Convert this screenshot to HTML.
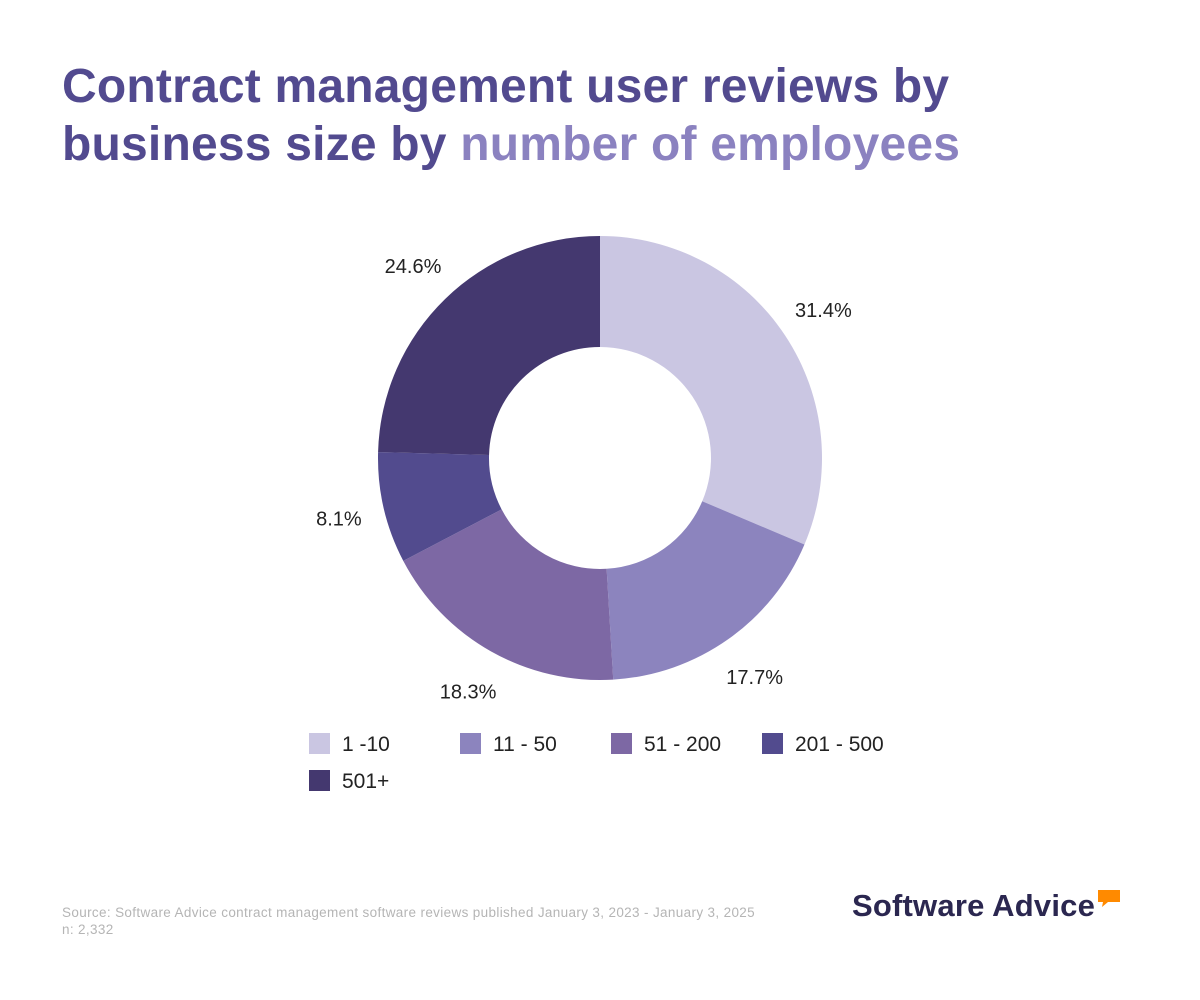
<!DOCTYPE html>
<html><head><meta charset="utf-8"><style>
body{margin:0;width:1200px;height:1000px;background:#fff;font-family:"Liberation Sans",sans-serif;position:relative;overflow:hidden}
h1{position:absolute;left:62px;top:58px;margin:0;font-size:48px;line-height:58px;font-weight:bold;color:#524a8f;letter-spacing:0.2px}
h1 span{color:#8b82c0}
.src{position:absolute;left:62px;top:904px;font-size:13.5px;color:#b5b5b5;line-height:17px;letter-spacing:0.35px}
.logo{position:absolute;left:852px;top:888px;font-size:31px;font-weight:bold;color:#2b2750;letter-spacing:0.2px}
</style></head><body>
<h1>Contract management user reviews by<br>business size by <span>number of employees</span></h1>
<svg id="chart" width="1200" height="1000" style="position:absolute;left:0;top:0"></svg>
<div class="src">Source: Software Advice contract management software reviews published January 3, 2023 - January 3, 2025<br>n: 2,332</div>
<div class="logo">Software Advice<svg width="26" height="22" style="position:absolute;left:244px;top:1px"><path d="M2 1h22v12h-12l-6 5 1-5h-5z" fill="#ff8a00"/></svg></div>
<script>
const categories=["1 -10","11 - 50","51 - 200","201 - 500","501+"];
const values=[31.4,17.7,18.3,8.1,24.6];
const labels=["31.4%","17.7%","18.3%","8.1%","24.6%"];
const colors=["#cac6e2","#8c84be","#7d68a4","#524b8e","#44386f"];
const svg=document.getElementById('chart');
const NS="http://www.w3.org/2000/svg";
const cx=600,cy=458,R=222,r=111;
const total=values.reduce((a,b)=>a+b,0);
function pt(a,rad){return [cx+rad*Math.sin(a),cy-rad*Math.cos(a)];}
let acc=0;
values.forEach((v,i)=>{
  const a0=acc/total*2*Math.PI;acc+=v;const a1=acc/total*2*Math.PI;
  const lg=(a1-a0)>Math.PI?1:0;
  const [x0,y0]=pt(a0,R),[x1,y1]=pt(a1,R),[x2,y2]=pt(a1,r),[x3,y3]=pt(a0,r);
  const p=document.createElementNS(NS,'path');
  p.setAttribute('d',`M${x0},${y0}A${R},${R} 0 ${lg} 1 ${x1},${y1}L${x2},${y2}A${r},${r} 0 ${lg} 0 ${x3},${y3}Z`);
  p.setAttribute('fill',colors[i]);
  
  
  svg.appendChild(p);
  const am=(a0+a1)/2;const [lx,ly]=pt(am,268);
  const t=document.createElementNS(NS,'text');
  t.setAttribute('x',lx);t.setAttribute('y',ly+7);t.setAttribute('text-anchor','middle');
  t.setAttribute('font-size','20');t.setAttribute('fill','#222');
  t.textContent=labels[i];
  
  
  svg.appendChild(t);
});
categories.forEach((c,i)=>{
  const col=i%4,row=Math.floor(i/4);
  const x=309+col*151,y=733+row*37;
  const g=document.createElementNS(NS,'g');
  
  
  const rc=document.createElementNS(NS,'rect');
  rc.setAttribute('x',x);rc.setAttribute('y',y);rc.setAttribute('width',21);rc.setAttribute('height',21);rc.setAttribute('fill',colors[i]);
  const t=document.createElementNS(NS,'text');
  t.setAttribute('x',x+33);t.setAttribute('y',y+18);t.setAttribute('font-size','21');t.setAttribute('fill','#222');
  t.textContent=c;
  g.appendChild(rc);g.appendChild(t);svg.appendChild(g);
});
</script>
</body></html>
